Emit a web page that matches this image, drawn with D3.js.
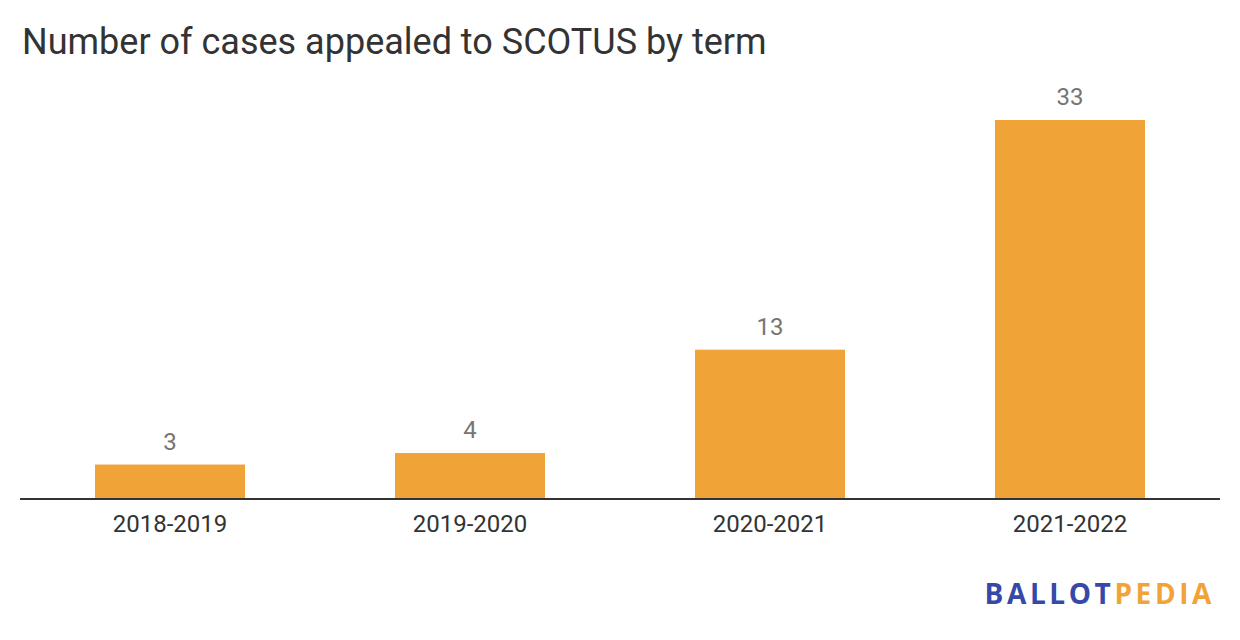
<!DOCTYPE html>
<html><head><meta charset="utf-8">
<script src="https://cdn.jsdelivr.net/npm/d3@7"></script>
<style>body{margin:0;background:#fff;font-family:Roboto,sans-serif}</style>
</head><body>
<svg id="c" width="1240" height="640"></svg>
<script>
const categories = ["2018-2019","2019-2020","2020-2021","2021-2022"];
const values = [3,4,13,33];
const title = "Number of cases appealed to SCOTUS by term";

const svg = d3.select("#c");
const x = d3.scaleBand().domain(categories).range([20,1220]).paddingInner(0.5).paddingOuter(0.25);
const y = d3.scaleLinear().domain([0,33]).range([499,120]);

svg.append("text").attr("x",22).attr("y",54).attr("font-size",36).attr("fill","#333").text(title);

svg.selectAll("rect.bar").data(values).join("rect").attr("class","bar")
  .attr("x",(d,i)=>x(categories[i])).attr("width",x.bandwidth())
  .attr("y",d=>y(d)).attr("height",d=>y(0)-y(d)).attr("fill","#F0A337");

svg.selectAll("text.val").data(values).join("text").attr("class","val")
  .attr("x",(d,i)=>x(categories[i])+x.bandwidth()/2).attr("y",d=>y(d)-15)
  .attr("text-anchor","middle").attr("font-size",24).attr("fill","#757575").text(d=>d);

const ax = svg.append("g").attr("transform","translate(0,499)")
  .call(d3.axisBottom(x).tickSize(0).tickPadding(0));
ax.select(".domain").attr("stroke","#333").attr("stroke-width",2).attr("d","M20,0H1220");
ax.selectAll("text").attr("font-size",24).attr("fill","#333").attr("font-family","Roboto")
  .attr("dy",null).attr("y",32.5);

const logo = svg.append("text").attr("x",1215).attr("y",604).attr("text-anchor","end")
  .attr("font-size",28).attr("font-weight",700).attr("letter-spacing",3.6).attr("font-family","'Open Sans'");
logo.append("tspan").attr("fill","#3649A8").text("BALLOT");
logo.append("tspan").attr("fill","#F0A337").text("PEDIA");
</script>
</body></html>
